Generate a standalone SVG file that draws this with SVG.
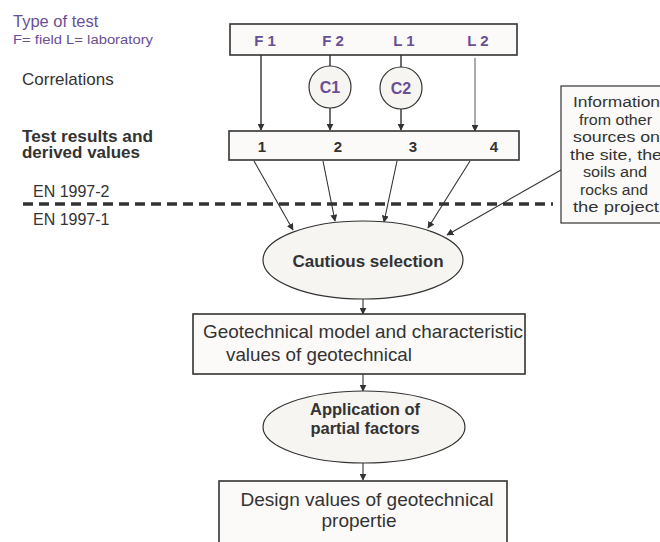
<svg xmlns="http://www.w3.org/2000/svg" width="660" height="542" viewBox="0 0 660 542">
  <style>
    text { font-family: "Liberation Sans", Arial, sans-serif; fill: #333; }
    .purple { fill: #6a4f96; }
    .bold { font-weight: bold; }
    .box { fill: #fbfaf8; stroke: #333; stroke-width: 1.6; }
    .oval { fill: #f6f5f2; stroke: #333; stroke-width: 1.2; }
    .conn { stroke: #333; stroke-width: 1.4; fill: none; }
    .thin { stroke: #333; stroke-width: 1.1; fill: none; }
    .light { stroke: #888; stroke-width: 1.4; fill: none; }
  </style>
  <defs>
    <marker id="arrow" viewBox="0 0 10 10" refX="9" refY="5" markerWidth="7" markerHeight="7" orient="auto" markerUnits="userSpaceOnUse">
      <path d="M0,0 L10,5 L0,10 z" fill="#333"/>
    </marker>
  </defs>

  <rect width="660" height="542" fill="#ffffff"/>

  <!-- Side labels -->
  <g id="side-labels">
    <text class="purple" x="13" y="27" font-size="16.5">Type of test</text>
    <text class="purple" x="13" y="44" font-size="13.5" textLength="140" lengthAdjust="spacingAndGlyphs">F= field L= laboratory</text>
    <text x="22" y="85" font-size="17">Correlations</text>
    <text class="bold" x="22" y="142" font-size="16" textLength="131" lengthAdjust="spacingAndGlyphs">Test results and</text>
    <text class="bold" x="22" y="158" font-size="16" textLength="118" lengthAdjust="spacingAndGlyphs">derived values</text>
    <text x="33" y="197" font-size="16">EN 1997-2</text>
    <text x="33" y="225" font-size="16">EN 1997-1</text>
  </g>

  <!-- Divider between the two standards -->
  <line x1="23" y1="204" x2="553" y2="204" stroke="#333" stroke-width="3.5" stroke-dasharray="10 6"/>

  <!-- Connectors -->
  <g id="connectors">
    <line class="conn" x1="261" y1="55" x2="261" y2="130" marker-end="url(#arrow)"/>
    <line class="conn" x1="330" y1="55" x2="330" y2="66"/>
    <line class="conn" x1="330" y1="108" x2="330" y2="130" marker-end="url(#arrow)"/>
    <line class="conn" x1="401" y1="55" x2="401" y2="67"/>
    <line class="conn" x1="401" y1="109" x2="401" y2="130" marker-end="url(#arrow)"/>
    <line class="light" x1="475" y1="58" x2="475" y2="131" marker-end="url(#arrow)"/>

    <line class="thin" x1="254" y1="161" x2="293" y2="230" marker-end="url(#arrow)"/>
    <line class="thin" x1="323" y1="161" x2="335" y2="221" marker-end="url(#arrow)"/>
    <line class="thin" x1="397" y1="161" x2="384" y2="222" marker-end="url(#arrow)"/>
    <line class="thin" x1="470" y1="161" x2="428" y2="228" marker-end="url(#arrow)"/>
    <line class="thin" x1="561" y1="170" x2="447" y2="235" marker-end="url(#arrow)"/>

    <line class="thin" x1="363" y1="299" x2="363" y2="314" marker-end="url(#arrow)"/>
    <line class="thin" x1="363" y1="374" x2="363" y2="391" marker-end="url(#arrow)"/>
    <line class="thin" x1="363" y1="463" x2="363" y2="480" marker-end="url(#arrow)"/>
  </g>

  <!-- Type of test -->
  <g id="tests">
    <rect class="box" x="230" y="24" width="287" height="31"/>
    <text class="purple bold" x="265" y="46" font-size="15" text-anchor="middle">F 1</text>
    <text class="purple bold" x="333" y="46" font-size="15" text-anchor="middle">F 2</text>
    <text class="purple bold" x="404" y="46" font-size="15" text-anchor="middle">L 1</text>
    <text class="purple bold" x="478" y="46" font-size="15" text-anchor="middle">L 2</text>
  </g>

  <!-- Correlations -->
  <g id="c1">
    <circle class="oval" cx="330" cy="87" r="21" fill="#fbfaf8"/>
    <text class="purple bold" x="330" y="93" font-size="16" text-anchor="middle">C1</text>
  </g>
  <g id="c2">
    <circle class="oval" cx="401" cy="88" r="21" fill="#fbfaf8"/>
    <text class="purple bold" x="401" y="94" font-size="16" text-anchor="middle">C2</text>
  </g>

  <!-- Test results -->
  <g id="results">
    <rect class="box" x="229" y="131" width="290" height="29"/>
    <text class="bold" x="262" y="152" font-size="15" text-anchor="middle">1</text>
    <text class="bold" x="338" y="152" font-size="15" text-anchor="middle">2</text>
    <text class="bold" x="413" y="152" font-size="15" text-anchor="middle">3</text>
    <text class="bold" x="494" y="152" font-size="15" text-anchor="middle">4</text>
  </g>

  <!-- Other information -->
  <g id="information">
    <rect x="561" y="86" width="104" height="137" fill="#fbfaf8" stroke="#333" stroke-width="1.2"/>
    <g font-size="15.5" lengthAdjust="spacingAndGlyphs">
      <text x="573" y="107" textLength="87" lengthAdjust="spacingAndGlyphs">Information</text>
      <text x="579" y="125" textLength="73" lengthAdjust="spacingAndGlyphs">from other</text>
      <text x="573" y="142" textLength="87" lengthAdjust="spacingAndGlyphs">sources on</text>
      <text x="570" y="160" textLength="92" lengthAdjust="spacingAndGlyphs">the site, the</text>
      <text x="583" y="177" textLength="64" lengthAdjust="spacingAndGlyphs">soils and</text>
      <text x="580" y="195" textLength="68" lengthAdjust="spacingAndGlyphs">rocks and</text>
      <text x="573" y="212" textLength="86" lengthAdjust="spacingAndGlyphs">the project</text>
    </g>
  </g>

  <!-- Cautious selection -->
  <g id="selection">
    <ellipse class="oval" cx="363" cy="260" rx="100" ry="39"/>
    <text class="bold" x="368" y="267" font-size="17" text-anchor="middle">Cautious selection</text>
  </g>

  <!-- Characteristic values -->
  <g id="model">
    <rect class="box" x="193" y="314" width="332" height="60"/>
    <text x="203" y="338" font-size="18.5" textLength="320" lengthAdjust="spacingAndGlyphs">Geotechnical model and characteristic</text>
    <text x="226" y="361" font-size="18.5" textLength="186" lengthAdjust="spacingAndGlyphs">values of geotechnical</text>
  </g>

  <!-- Partial factors -->
  <g id="factors">
    <ellipse class="oval" cx="364" cy="427" rx="101" ry="36"/>
    <text class="bold" x="365" y="415" font-size="16.5" text-anchor="middle">Application of</text>
    <text class="bold" x="365" y="434" font-size="16.5" text-anchor="middle">partial factors</text>
  </g>

  <!-- Design values -->
  <g id="design">
    <rect class="box" x="219" y="481" width="288" height="70"/>
    <text x="367" y="506" font-size="19" text-anchor="middle" textLength="253" lengthAdjust="spacingAndGlyphs">Design values of geotechnical</text>
    <text x="359" y="527" font-size="19" text-anchor="middle">propertie</text>
  </g>
</svg>
